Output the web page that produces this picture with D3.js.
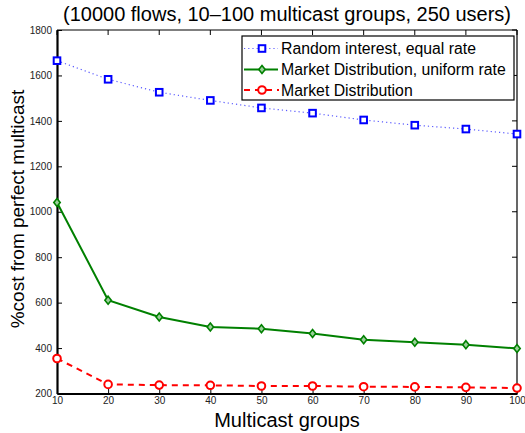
<!DOCTYPE html>
<html><head><meta charset="utf-8">
<script src="https://cdn.jsdelivr.net/npm/d3@7"></script>
<style>body{margin:0;background:#fff}svg{display:block}text{font-family:Arial,"Liberation Sans",Helvetica,sans-serif}</style>
</head><body>
<script>
const groups = [10,20,30,40,50,60,70,80,90,100];
const randomInterest = [1665,1583,1526,1490,1457,1434,1404,1381,1364,1342];
const marketUniform = [1041,611,537,493,485,464,437,426,415,398];
const market = [354,240,237,236,233,233,230,229,227,224];
const xTicks = [10,20,30,40,50,60,70,80,90,100];
const yTicks = [200,400,600,800,1000,1200,1400,1600,1800];
const seriesNames = ["Random interest, equal rate","Market Distribution, uniform rate","Market Distribution"];

const W=525,H=433;
const L=57,R=517,T=30,B=393.5;
const svg=d3.select("body").append("svg").attr("width",W).attr("height",H);
const x=d3.scaleLinear().domain([10,100]).range([L,R]);
const y=d3.scaleLinear().domain([200,1800]).range([B,T]);

svg.append("line").attr("x1",L).attr("x2",R).attr("y1",T).attr("y2",T).attr("stroke","#000").attr("stroke-width",1.2);
svg.append("line").attr("x1",R).attr("x2",R).attr("y1",T).attr("y2",B).attr("stroke","#000").attr("stroke-width",1.2);
xTicks.forEach(v=>{svg.append("line").attr("x1",x(v)).attr("x2",x(v)).attr("y1",T).attr("y2",T+5).attr("stroke","#000");});
yTicks.forEach(v=>{svg.append("line").attr("x1",R).attr("x2",R-5).attr("y1",y(v)).attr("y2",y(v)).attr("stroke","#000");});

const xAxis=svg.append("g").attr("transform",`translate(0,${B})`)
  .call(d3.axisBottom(x).tickValues(xTicks).tickFormat(d3.format("d")).tickSizeInner(-5).tickSizeOuter(0).tickPadding(3));
const yAxis=svg.append("g").attr("transform",`translate(${L},0)`)
  .call(d3.axisLeft(y).tickValues(yTicks).tickFormat(d3.format("d")).tickSizeInner(-5).tickSizeOuter(0).tickPadding(5));
[xAxis,yAxis].forEach(g=>{
  g.select(".domain").attr("stroke","#000").attr("stroke-width",2.2);
  g.selectAll(".tick line").attr("stroke","#000");
  g.selectAll(".tick text").attr("font-size",10).attr("fill","#222").attr("font-family","Arial,'Liberation Sans',sans-serif");
});

const line=d3.line().x((d,i)=>x(groups[i])).y(d=>y(d));
svg.append("path").datum(randomInterest).attr("d",line).attr("fill","none").attr("stroke","#5a5aff").attr("stroke-width",1.2).attr("stroke-dasharray","1.2,3");
svg.append("path").datum(marketUniform).attr("d",line).attr("fill","none").attr("stroke","#008000").attr("stroke-width",2);
svg.append("path").datum(market).attr("d",line).attr("fill","none").attr("stroke","#ff0000").attr("stroke-width",2).attr("stroke-dasharray","6,5");

function square(g,cx,cy){g.append("rect").attr("x",cx-3.3).attr("y",cy-3.3).attr("width",6.6).attr("height",6.6).attr("fill","#fff").attr("stroke","#0000ff").attr("stroke-width",2);}
function diamond(g,cx,cy){g.append("path").attr("d",`M${cx},${cy-4}L${cx+3.2},${cy}L${cx},${cy+4}L${cx-3.2},${cy}Z`).attr("fill","#9ccf9c").attr("stroke","#008000").attr("stroke-width",1.6);}
function circle(g,cx,cy){g.append("circle").attr("cx",cx).attr("cy",cy).attr("r",3.8).attr("fill","#fff").attr("stroke","#ff0000").attr("stroke-width",2);}

const mg=svg.append("g");
randomInterest.forEach((v,i)=>square(mg,x(groups[i]),y(v)));
marketUniform.forEach((v,i)=>diamond(mg,x(groups[i]),y(v)));
market.forEach((v,i)=>circle(mg,x(groups[i]),y(v)));

const lg=svg.append("g");
lg.append("rect").attr("x",242).attr("y",36).attr("width",272).attr("height",64).attr("fill","#fff").attr("stroke","#000").attr("stroke-width",1.2);
const ly=[48.5,69.5,90];
lg.append("line").attr("x1",244).attr("x2",278).attr("y1",ly[0]).attr("y2",ly[0]).attr("stroke","#5a5aff").attr("stroke-width",1.2).attr("stroke-dasharray","1.2,3");
square(lg,262,ly[0]);
lg.append("line").attr("x1",244).attr("x2",278).attr("y1",ly[1]).attr("y2",ly[1]).attr("stroke","#008000").attr("stroke-width",2);
diamond(lg,262,ly[1]);
lg.append("line").attr("x1",244).attr("x2",279).attr("y1",ly[2]).attr("y2",ly[2]).attr("stroke","#ff0000").attr("stroke-width",2).attr("stroke-dasharray","6,5");
circle(lg,262,ly[2]);
seriesNames.forEach((s,i)=>lg.append("text").attr("x",281).attr("y",ly[i]).attr("dy","0.35em").attr("font-size",15.8).attr("fill","#000").text(s));

svg.append("text").attr("x",(L+R)/2).attr("y",21).attr("text-anchor","middle").attr("font-size",20).attr("fill","#000").text("(10000 flows, 10–100 multicast groups, 250 users)");
svg.append("text").attr("x",(L+R)/2).attr("y",427).attr("text-anchor","middle").attr("font-size",20).attr("fill","#000").text("Multicast groups");
svg.append("text").attr("transform",`translate(24,209) rotate(-90)`).attr("text-anchor","middle").attr("font-size",19).attr("fill","#000").text("%cost from perfect multicast");
</script>
</body></html>
